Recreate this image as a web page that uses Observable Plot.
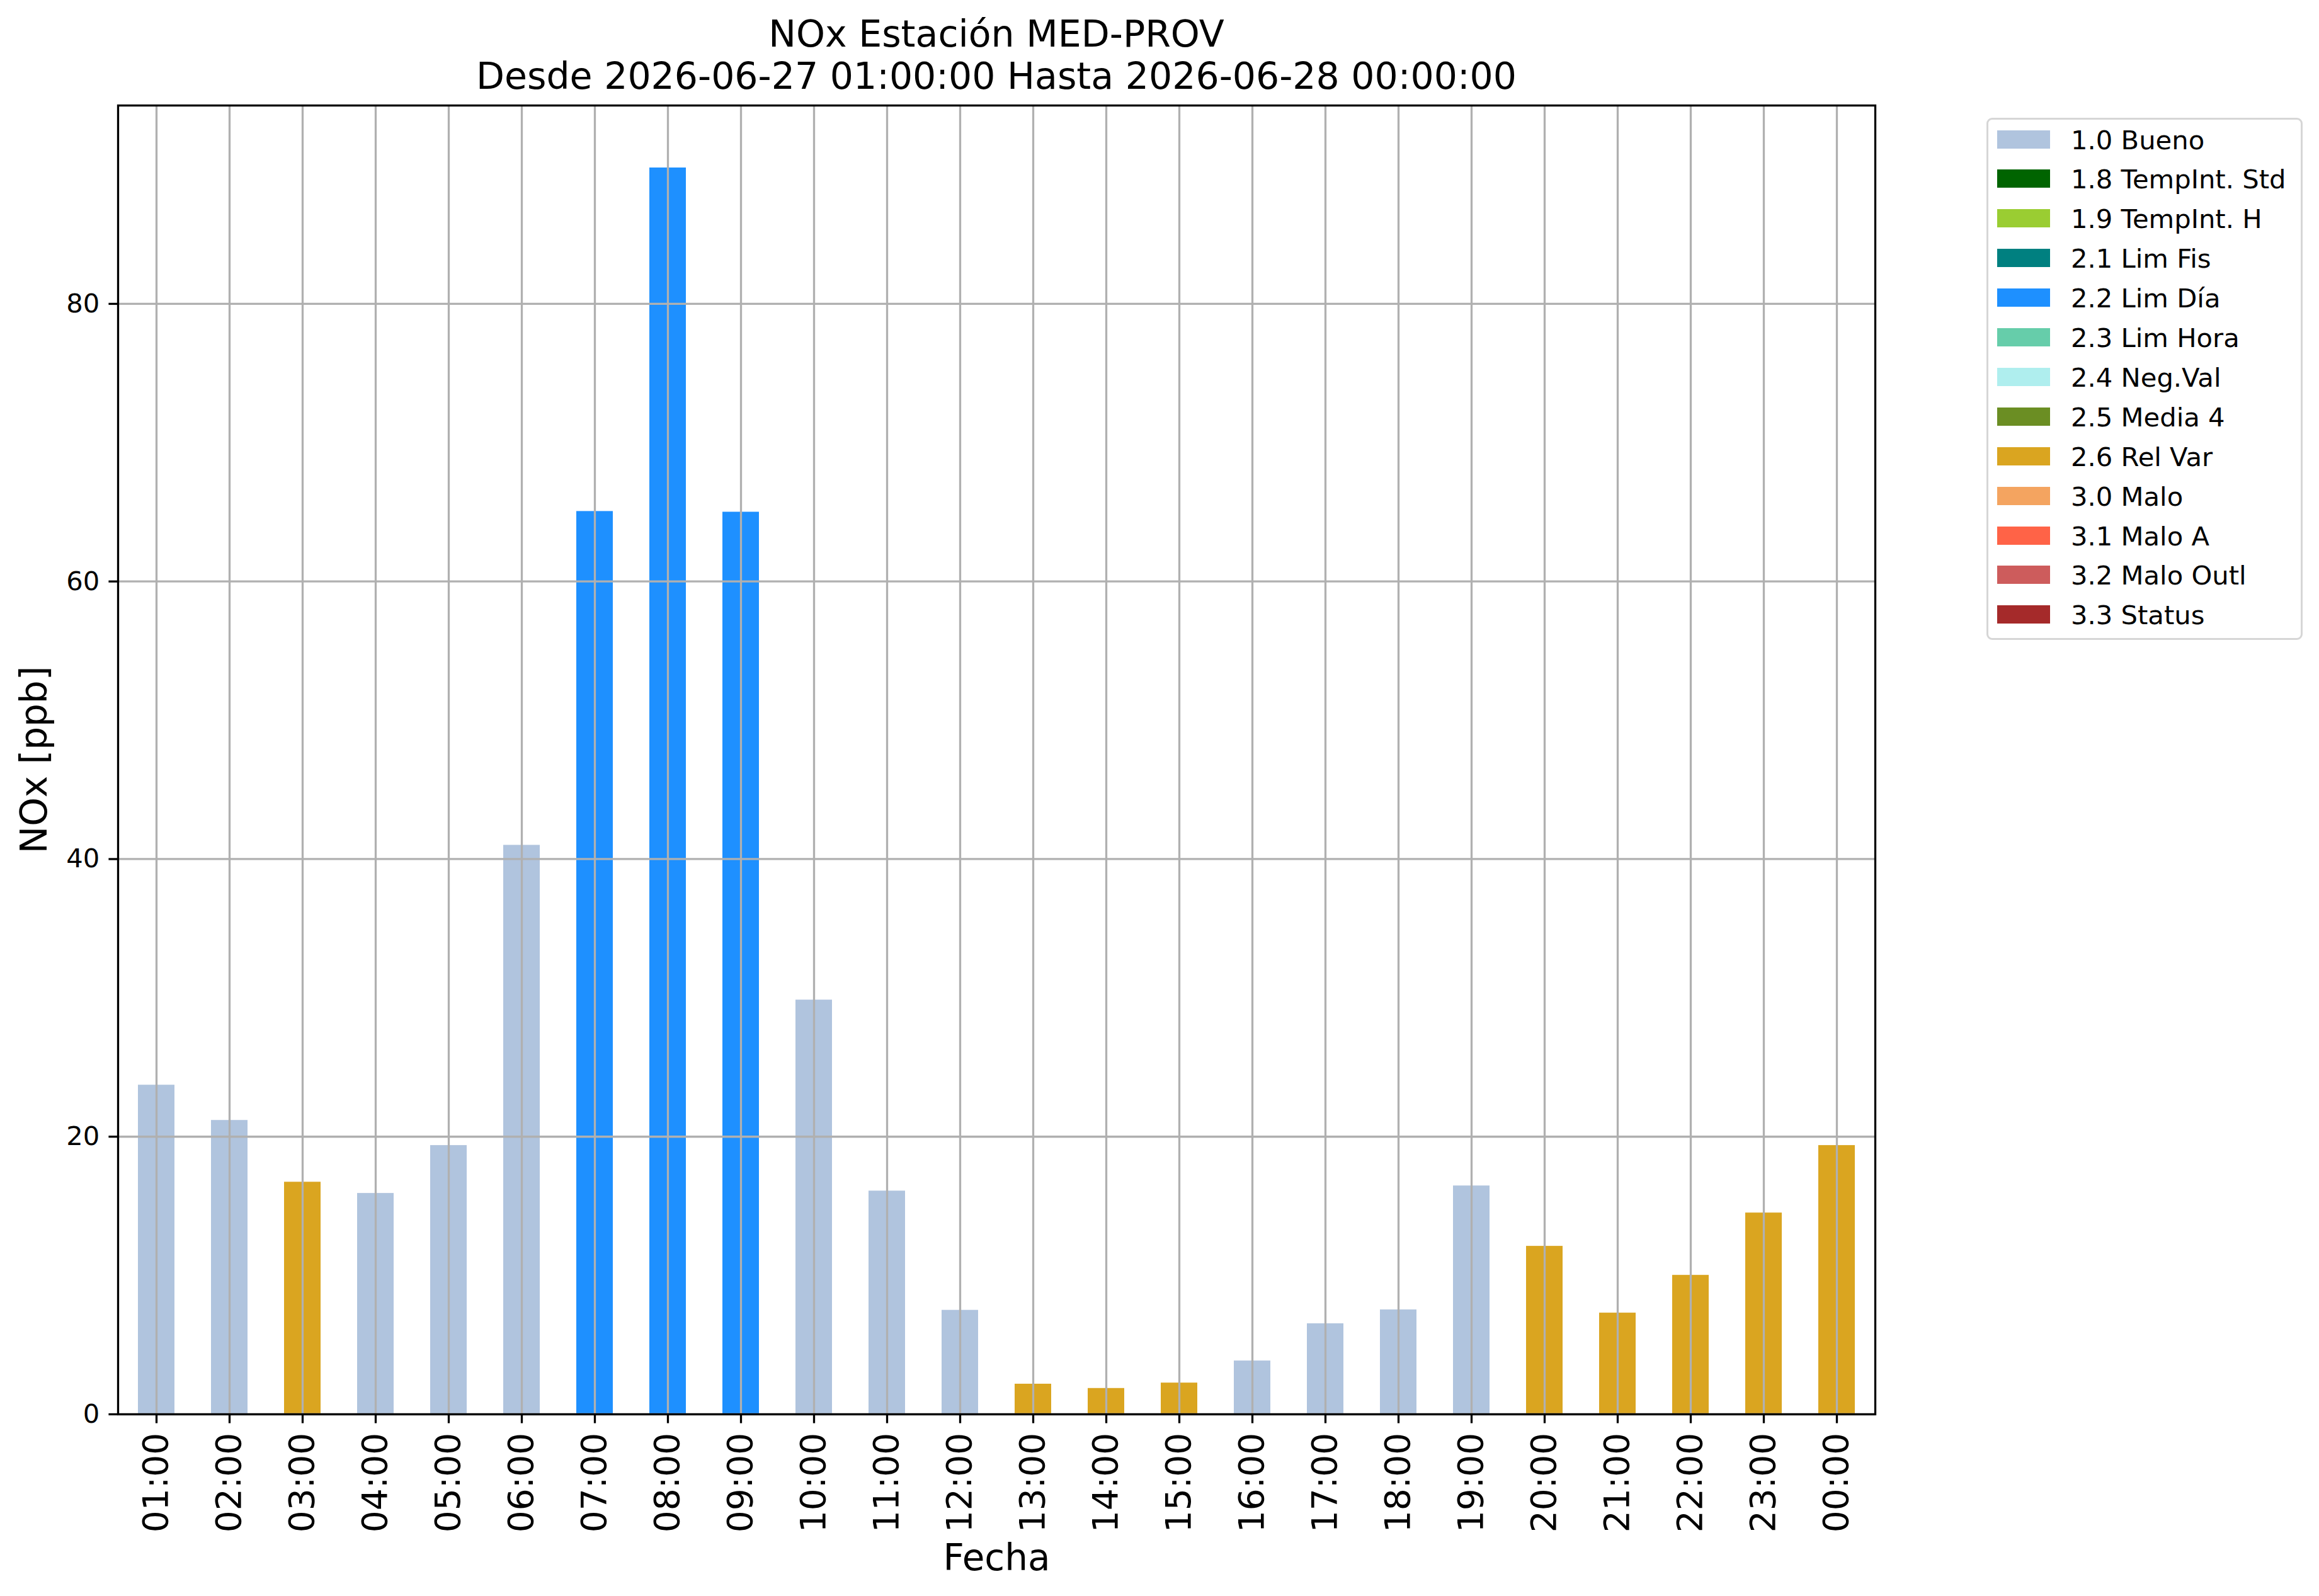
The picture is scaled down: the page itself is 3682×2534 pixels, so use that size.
<!DOCTYPE html>
<html>
<head>
<meta charset="utf-8">
<script src="https://cdn.jsdelivr.net/npm/d3@7"></script>
<script src="https://cdn.jsdelivr.net/npm/@observablehq/plot@0.6"></script>
<style>
  html, body { margin: 0; padding: 0; background: #ffffff; }
  #fig { position: relative; width: 3682px; height: 2534px; background: #ffffff; font-family: "DejaVu Sans", sans-serif; overflow: hidden; }
  #title { position: absolute; left: 0; top: 21px; width: 3164px; text-align: center; font-size: 58.5px; line-height: 67px; color: #000; }
  #plot { position: absolute; left: 0; top: 160px; }
  #legend { position: absolute; left: 3154px; top: 187px; width: 502px; height: 829px; border: 3.5px solid #d6d6d6; border-radius: 9px; box-sizing: border-box; background: #fff; }
  .row { position: absolute; left: 0; height: 29px; }
  .sw { position: absolute; left: 14px; top: 0; width: 84px; height: 29px; }
  .lb { position: absolute; left: 131px; top: 1px; font-size: 41.7px; line-height: 29px; white-space: nowrap; color: #000; }
</style>
</head>
<body>
<div id="fig">
  <div id="title"></div>
  <div id="plot"></div>
  <div id="legend"></div>
</div>
<script>
// ---- data ----
const hours = ["01:00","02:00","03:00","04:00","05:00","06:00","07:00","08:00","09:00","10:00","11:00","12:00",
               "13:00","14:00","15:00","16:00","17:00","18:00","19:00","20:00","21:00","22:00","23:00","00:00"];
const values = [23.72, 21.18, 16.73, 15.92, 19.37, 41.0, 65.05, 89.8, 65.0, 29.85, 16.09, 7.5,
                2.18, 1.87, 2.26, 3.85, 6.53, 7.53, 16.46, 12.11, 7.30, 10.02, 14.51, 19.37];
const flags = ["1.0 Bueno","1.0 Bueno","2.6 Rel Var","1.0 Bueno","1.0 Bueno","1.0 Bueno","2.2 Lim Día","2.2 Lim Día","2.2 Lim Día","1.0 Bueno","1.0 Bueno","1.0 Bueno",
               "2.6 Rel Var","2.6 Rel Var","2.6 Rel Var","1.0 Bueno","1.0 Bueno","1.0 Bueno","1.0 Bueno","2.6 Rel Var","2.6 Rel Var","2.6 Rel Var","2.6 Rel Var","2.6 Rel Var"];
const flagNames = ["1.0 Bueno","1.8 TempInt. Std","1.9 TempInt. H","2.1 Lim Fis","2.2 Lim Día","2.3 Lim Hora","2.4 Neg.Val",
                   "2.5 Media 4","2.6 Rel Var","3.0 Malo","3.1 Malo A","3.2 Malo Outl","3.3 Status"];
const flagColors = ["#b0c4de","#006400","#9acd32","#008080","#1e90ff","#66cdaa","#afeeee",
                    "#6b8e23","#daa520","#f4a460","#ff6347","#cd5c5c","#a52a2a"];
const yTicks = [0, 20, 40, 60, 80];
const titleLines = ["NOx Estación MED-PROV", "Desde 2026-06-27 01:00:00 Hasta 2026-06-28 00:00:00"];
const xLabel = "Fecha";
const yLabel = "NOx [ppb]";

const data = hours.map((h, i) => ({hour: h, value: values[i], flag: flags[i]}));

// ---- title ----
document.getElementById("title").innerHTML = titleLines.map(t => `<div>${t}</div>`).join("");

// ---- chart ----
const lw = 3.3;
const chart = Plot.plot({
  width: 3682,
  height: 2374,
  marginTop: 7,
  marginBottom: 289,
  marginLeft: 187,
  marginRight: 705,
  style: {fontFamily: "DejaVu Sans", background: "#ffffff", color: "#000000"},
  x: {domain: hours, type: "band", paddingInner: 0.5, paddingOuter: 0.25},
  y: {domain: [0, 94.29]},
  color: {type: "ordinal", domain: flagNames, range: flagColors},
  marks: [
    Plot.barY(data, {x: "hour", y: "value", fill: "flag"}),
    Plot.gridX({stroke: "#b0b0b0", strokeOpacity: 1, strokeWidth: lw}),
    Plot.gridY(yTicks, {stroke: "#b0b0b0", strokeOpacity: 1, strokeWidth: lw}),
    Plot.frame({stroke: "#000000", strokeWidth: lw}),
    Plot.axisY(yTicks, {tickSize: 14.6, tickPadding: 14.6, fontSize: 41.7, strokeWidth: lw, label: null}),
    Plot.axisX({tickRotate: -90, tickSize: 14.6, tickPadding: 14.6, fontSize: 55, strokeWidth: lw, label: null}),
    Plot.text([xLabel], {frameAnchor: "bottom", dy: 247, lineAnchor: "bottom", textAnchor: "middle", fontSize: 58}),
    Plot.text([yLabel], {frameAnchor: "left", dx: -132, rotate: -90, lineAnchor: "middle", textAnchor: "middle", fontSize: 58})
  ]
});
document.getElementById("plot").appendChild(chart);

// ---- legend ----
const leg = document.getElementById("legend");
flagNames.forEach((name, i) => {
  const row = document.createElement("div");
  row.className = "row";
  row.style.top = (16.5 + i * 62.9) + "px";
  row.innerHTML = `<div class="sw" style="background:${flagColors[i]}"></div><div class="lb">${name}</div>`;
  leg.appendChild(row);
});
</script>
</body>
</html>
